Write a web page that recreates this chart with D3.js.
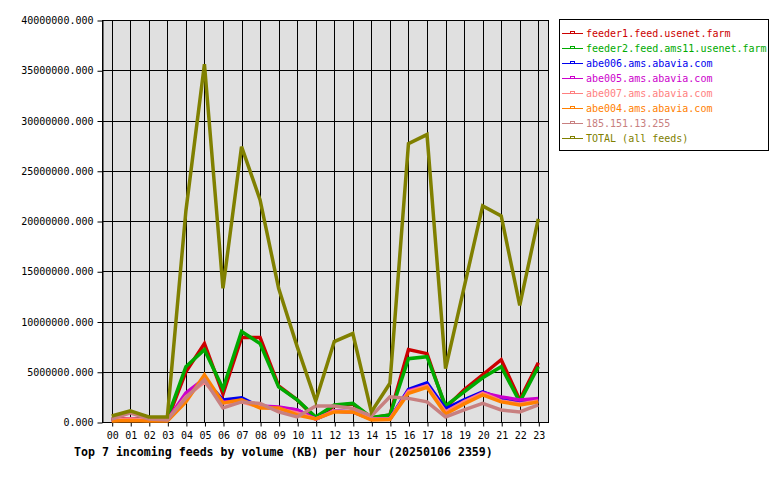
<!DOCTYPE html>
<html lang="en">
<head>
  <meta charset="UTF-8">
  <title>Top 7 incoming feeds</title>
  <style>
    body { margin: 0; background: #fff; }
    text { font-family: "DejaVu Sans Mono", monospace; }
  </style>
</head>
<body>
  <div id="svg"></div>
<script src="https://cdn.jsdelivr.net/npm/d3@7"></script>
<script type="text/javascript">
  // values in millions of KB
  const hours = ["00","01","02","03","04","05","06","07","08","09","10","11",
                 "12","13","14","15","16","17","18","19","20","21","22","23"]
  const feeder1 = [0.3, 0.3, 0.3, 0.2, 5.0, 7.8, 2.8, 8.4, 8.4, 3.6, 2.2, 0.4, 1.6, 1.8, 0.4, 0.7, 7.2, 6.8, 1.4, 3.2, 4.7, 6.2, 2.2, 5.9]
  const feeder2 = [0.3, 0.2, 0.4, 0.4, 5.5, 7.2, 3.3, 9.0, 7.8, 3.5, 2.2, 0.5, 1.7, 1.85, 0.45, 0.7, 6.3, 6.5, 1.6, 3.0, 4.4, 5.5, 2.0, 5.5]
  const abe006 = [0.2, 0.2, 0.2, 0.2, 2.6, 4.2, 2.2, 2.4, 1.5, 1.4, 1.2, 0.3, 1.1, 1.0, 0.3, 0.3, 3.25, 3.9, 1.3, 2.2, 3.0, 2.3, 1.9, 2.2]
  const abe005 = [0.2, 0.3, 0.2, 0.2, 2.9, 4.3, 2.0, 2.1, 1.6, 1.5, 1.2, 0.3, 1.1, 1.0, 0.3, 0.3, 3.1, 3.6, 1.0, 2.0, 2.9, 2.5, 2.2, 2.35]
  const abe007 = [0.2, 0.3, 0.2, 0.2, 2.5, 4.0, 1.9, 2.0, 1.5, 1.3, 0.9, 0.3, 1.1, 1.0, 0.3, 0.3, 3.0, 3.6, 1.0, 2.0, 2.85, 2.1, 1.8, 2.1]
  const abe004 = [0.1, 0.15, 0.1, 0.1, 2.0, 4.7, 1.9, 2.2, 1.4, 1.4, 0.7, 0.3, 1.0, 1.0, 0.2, 0.25, 2.85, 3.45, 0.8, 1.8, 2.7, 2.0, 1.7, 2.0]
  const ip185 = [0.3, 0.9, 0.3, 0.2, 2.4, 4.2, 1.4, 2.0, 1.85, 1.0, 0.5, 1.6, 1.6, 1.35, 0.6, 2.5, 2.35, 2.0, 0.5, 1.2, 1.85, 1.2, 1.0, 1.7]
  const total = [0.6, 1.1, 0.5, 0.5, 21.0, 35.6, 13.3, 27.4, 22.1, 13.3, 7.5, 2.1, 8.0, 8.8, 1.0, 3.85, 27.7, 28.6, 5.3, 13.4, 21.5, 20.5, 11.6, 20.2]
  const seriesNames = ["feeder1.feed.usenet.farm", "feeder2.feed.ams11.usenet.farm", "abe006.ams.abavia.com",
                       "abe005.ams.abavia.com", "abe007.ams.abavia.com", "abe004.ams.abavia.com",
                       "185.151.13.255", "TOTAL (all feeds)"]
  const yTicks = [0, 5, 10, 15, 20, 25, 30, 35, 40]
  const UNIT = 1e6
  const title = "Top 7 incoming feeds by volume (KB) per hour (20250106 2359)"

  const seriesValues = [feeder1, feeder2, abe006, abe005, abe007, abe004, ip185, total]
  const colors = ["#cc0000", "#00aa00", "#0000ee", "#cc00cc", "#ff8080", "#ff8000", "#c88080", "#808000"]

  // 画布
  const width = 780
  const height = 480
  const plot = {left: 102, right: 548, top: 20, bottom: 422}
  const svg = d3.select("#svg").append("svg").attr("width", width).attr("height", height)

  const x = d3.scaleLinear().domain([0, 23]).range([111.7, 538.3])
  const y = d3.scaleLinear().domain([0, 40]).range([plot.bottom, plot.top])

  // 背景
  svg.append("rect")
    .attr("x", plot.left + 0.5).attr("y", plot.top + 0.5)
    .attr("width", plot.right - plot.left).attr("height", plot.bottom - plot.top)
    .attr("fill", "#e0e0e0").attr("stroke", "#000").attr("stroke-width", 1)

  // 网格
  svg.append("g").selectAll("line").data(hours).enter().append("line")
    .attr("x1", (d, i) => Math.round(x(i)) + 0.5).attr("x2", (d, i) => Math.round(x(i)) + 0.5)
    .attr("y1", plot.top).attr("y2", plot.bottom)
    .attr("stroke", "#000").attr("stroke-width", 1)
  svg.append("g").selectAll("line").data(yTicks).enter().append("line")
    .attr("x1", plot.left).attr("x2", plot.right)
    .attr("y1", d => Math.round(y(d)) + 0.5).attr("y2", d => Math.round(y(d)) + 0.5)
    .attr("stroke", "#000").attr("stroke-width", 1)

  // 坐标轴
  const yAxis = d3.axisLeft(y).tickValues(yTicks).tickSize(5).tickSizeOuter(0).tickPadding(4)
    .tickFormat(d => (d * UNIT).toFixed(3))
  svg.append("g").attr("transform", `translate(${plot.left + 0.5},0.5)`).call(yAxis)
    .call(g => g.selectAll("text").attr("font-size", "10px").attr("fill", "#000").attr("font-family", "DejaVu Sans Mono"))

  const xAxis = d3.axisBottom(x).tickValues(d3.range(hours.length)).tickSize(4).tickSizeOuter(0).tickPadding(5)
    .tickFormat(i => hours[i])
  svg.append("g").attr("transform", `translate(0.5,${plot.bottom + 0.5})`).call(xAxis)
    .call(g => g.select(".domain").remove())
    .call(g => g.selectAll("text").attr("font-size", "10px").attr("fill", "#000").attr("font-family", "DejaVu Sans Mono"))
  svg.selectAll(".domain").attr("stroke", "#000")
  svg.selectAll(".tick line").attr("stroke", "#000")

  // 折线
  const line = d3.line().x((d, i) => x(i)).y(d => y(d))
  svg.append("g").selectAll("path").data(seriesValues).enter().append("path")
    .attr("d", line)
    .attr("fill", "none")
    .attr("stroke", (d, i) => colors[i])
    .attr("stroke-width", 3.5)
    .attr("stroke-linejoin", "miter")

  // 图例
  const legend = svg.append("g")
  legend.append("rect").attr("x", 559.5).attr("y", 19.5).attr("width", 209).attr("height", 131)
    .attr("fill", "#fff").attr("stroke", "#000")
  const items = legend.selectAll("g").data(seriesNames).enter().append("g")
    .attr("transform", (d, i) => `translate(0,${33 + i * 15})`)
  items.append("line").attr("x1", 562).attr("x2", 583).attr("y1", 0.5).attr("y2", 0.5)
    .attr("stroke", (d, i) => colors[i]).attr("stroke-width", 1)
  items.append("rect").attr("x", 570.5).attr("y", -1.5).attr("width", 4).attr("height", 2)
    .attr("fill", "#fff").attr("stroke", (d, i) => colors[i])
  items.append("text").attr("x", 586).attr("y", 4)
    .attr("font-size", "10px").attr("fill", (d, i) => colors[i])
    .text(d => d)

  // 标题
  svg.append("text").attr("x", 74).attr("y", 456)
    .attr("font-size", "11.6px").attr("font-weight", "bold").attr("fill", "#000")
    .text(title)
</script>
</body>
</html>
